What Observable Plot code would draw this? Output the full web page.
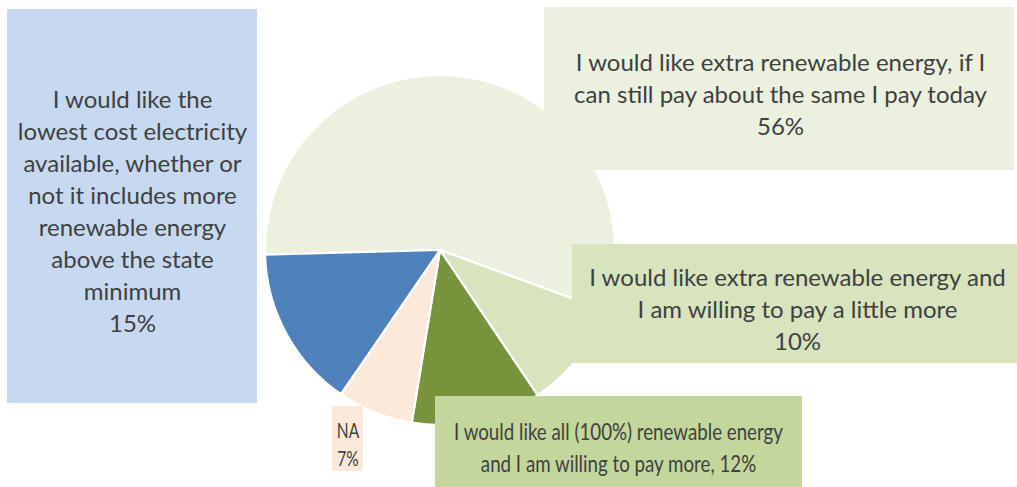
<!DOCTYPE html>
<html><head><meta charset="utf-8">
<script src="https://cdn.jsdelivr.net/npm/d3@7"></script>
<script src="https://cdn.jsdelivr.net/npm/@observablehq/plot@0.6"></script>
<style>body{margin:0;background:#fff;overflow:hidden}</style>
</head><body><div id="chart"></div>
<script>
// ---- data ----
const categories = [
  "I would like extra renewable energy, if I can still pay about the same I pay today",
  "I would like extra renewable energy and I am willing to pay a little more",
  "I would like all (100%) renewable energy and I am willing to pay more",
  "NA",
  "I would like the lowest cost electricity available, whether or not it includes more renewable energy above the state minimum"
];
const values = [56, 10, 12, 7, 15];
const sliceColors = ["#EBF1DE", "#D7E4BD", "#77933C", "#FDE9D9", "#4F81BD"];
const labelLines = [
  "I would like extra renewable energy, if I\ncan still pay about the same I pay today",
  "I would like extra renewable energy and\nI am willing to pay a little more",
  "I would like all (100%) renewable energy\nand I am willing to pay more",
  "NA",
  "I would like the\nlowest cost electricity\navailable, whether or\nnot it includes more\nrenewable energy\nabove the state\nminimum"
];
const percentSeparators = ["\n", "\n", ", ", "\n", "\n"];
const boxColors = ["#EBF1DE", "#D7E4BD", "#C3D69B", "#FDE9D9", "#C6D9F1"];

// ---- layout (pixels) ----
const W = 1017, H = 487;
const cx = 440, cy = 250, R = 175;
const startDeg = -91.5;
const lineH = 32;
const layout = [
  {x1: 544, y1: 7,   x2: 1014, y2: 170, tx: 780,   base: 65,  fs: 24, sx: 1},
  {x1: 572, y1: 244, x2: 1017, y2: 363, tx: 797,   base: 280, fs: 24, sx: 1},
  {x1: 435, y1: 396, x2: 802,  y2: 487, tx: 618,   base: 434, fs: 24, sx: 0.78},
  {x1: 332, y1: 406, x2: 363,  y2: 471, tx: 347.5, base: 433, fs: 21, sx: 0.74},
  {x1: 7,   y1: 9,   x2: 257,  y2: 403, tx: 132,   base: 102, fs: 24, sx: 1}
];

const rows = categories.map((c, i) => ({category: c, value: values[i]}));
const boxes = layout.map((l, i) => ({
  ...l,
  fill: boxColors[i],
  ty: l.base - 0.71 * l.fs,
  label: labelLines[i] + percentSeparators[i] + values[i] + "%"
}));

const color = Plot.scale({color: {type: "ordinal", domain: categories, range: sliceColors}});
const start = startDeg * Math.PI / 180;
const arcs = d3.pie().sort(null).value(d => d.value).startAngle(start).endAngle(start + 2 * Math.PI)(rows);

function pieMark(index, scales) {
  const sx = scales && typeof scales.x === "function" ? scales.x : (v => v);
  const sy = scales && typeof scales.y === "function" ? scales.y : (v => v);
  const r = Math.abs(sx(cx + R) - sx(cx));
  const arc = d3.arc().innerRadius(0).outerRadius(r);
  const g = d3.create("svg:g").attr("transform", `translate(${sx(cx)},${sy(cy)})`);
  g.selectAll("path").data(arcs).join("path")
    .attr("d", arc)
    .attr("fill", d => color.apply(d.data.category))
    .attr("stroke", "#ffffff")
    .attr("stroke-width", 2.2)
    .attr("stroke-linejoin", "round");
  return g.node();
}

const chart = Plot.plot({
  width: W, height: H, margin: 0,
  x: {domain: [0, W], range: [0, W], axis: null},
  y: {domain: [0, H], range: [0, H], axis: null},
  style: {background: "#ffffff"},
  marks: [
    pieMark,
    Plot.rect(boxes, {x1: "x1", x2: "x2", y1: "y1", y2: "y2", fill: d => d.fill}),
    Plot.text(boxes, {
      x: "tx", y: "ty", text: "label",
      textAnchor: "middle", lineAnchor: "top",
      lineHeight: lineH / 24,
      fontSize: d => d.fs, fontFamily: "Lato", fill: "#404040"
    })
  ]
});
// horizontal compression of the two bottom labels (narrow text in the reference)
const svgRoot = chart.tagName.toLowerCase() === "svg" ? chart : chart.querySelector("svg");
Array.from(svgRoot.querySelectorAll("text")).forEach((el, i) => {
  const b = boxes[i];
  if (!b || b.sx === 1) return;
  const x = b.tx, y = b.ty;
  // wrap in a group scaled around the label's anchor point
  const g = document.createElementNS("http://www.w3.org/2000/svg", "g");
  g.setAttribute("transform", `translate(${x},${y}) scale(${b.sx},1) translate(${-x},${-y})`);
  el.parentNode.insertBefore(g, el);
  g.appendChild(el);
});
document.getElementById("chart").appendChild(chart);
</script>
</body></html>
